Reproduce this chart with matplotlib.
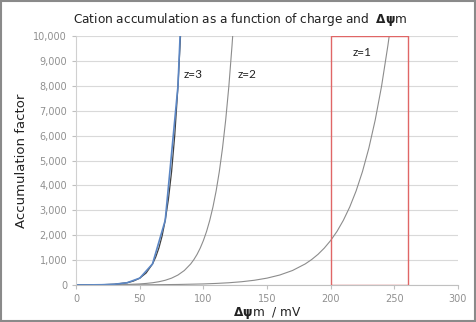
import matplotlib
matplotlib.use("Agg")
import matplotlib.pyplot as plt
from matplotlib.patches import Rectangle

# accumulation factor vs membrane potential (mV)
x_z1 = [0, 20, 40, 60, 80, 100, 110, 120, 130, 140, 150, 160, 170, 180, 185, 190, 195,
        200, 205, 210, 215, 220, 225, 230, 235, 240, 245, 246]
y_z1 = [1, 2, 4.5, 9, 20, 42, 62, 89, 130, 189, 275, 400, 581, 845, 1019, 1228, 1482,
        1787, 2154, 2600, 3134, 3778, 4557, 5495, 6625, 7986, 9630, 10000]

x_z2 = [0, 10, 20, 30, 40, 50, 55, 60, 65, 70, 75, 80, 85, 90, 92.5, 95, 97.5,
        100, 102.5, 105, 107.5, 110, 112.5, 115, 117.5, 120, 122.5, 123]
y_z2 = [1, 2, 4.5, 9, 20, 42, 62, 89, 130, 189, 275, 400, 581, 845, 1019, 1228, 1482,
        1787, 2154, 2600, 3134, 3778, 4557, 5495, 6625, 7986, 9630, 10000]

x_z3 = [0, 10, 20, 30, 40, 45, 50, 55, 60, 62.5, 65, 67.5, 70, 72.5, 75, 77.5, 80, 82]
y_z3 = [1, 3, 9, 29, 89, 157, 275, 482, 845, 1119, 1482, 1962, 2600, 3443, 4557, 6030, 7986, 10000]

# coarser series drawn in blue on top of z=3
x_blue = [0, 10, 20, 30, 40, 50, 60, 70, 80, 85]
y_blue = [1, 3, 9, 29, 89, 275, 845, 2600, 7986, 14000]

labels = ["z=3", "z=2", "z=1"]
label_x = [92, 134, 225]
label_y = [8450, 8450, 9350]

box_x = [200, 261]

fig = plt.figure(figsize=(4.76, 3.22), dpi=100)
ax = fig.add_axes([0.160, 0.115, 0.802, 0.773])

ax.plot(x_z1, y_z1, color="#8c8c8c", lw=0.8)
ax.plot(x_z2, y_z2, color="#8c8c8c", lw=0.8)
ax.plot(x_z3, y_z3, color="#404040", lw=0.9)
ax.plot(x_blue, y_blue, color="#5b86c4", lw=1.2)

ax.add_patch(Rectangle((box_x[0], 0), box_x[1] - box_x[0], 10000,
                       fill=False, edgecolor="#e06666", lw=1.0, zorder=5))

for t, lx, ly in zip(labels, label_x, label_y):
    ax.text(lx, ly, t, fontsize=8.5, family="Lato", ha="center", va="center", color="#222222")

ax.set_xlim(0, 300)
ax.set_ylim(0, 10000)
ax.set_xticks(range(0, 301, 50))
ax.set_yticks(range(0, 10001, 1000))
ax.set_yticklabels([f"{v:,}" for v in range(0, 10001, 1000)])
ax.grid(axis="y", color="#d9d9d9", lw=0.8)
ax.set_axisbelow(True)
for s in ["top", "right"]:
    ax.spines[s].set_visible(False)
ax.spines["left"].set_color("#d0d0d0")
ax.spines["bottom"].set_color("#c0c0c0")
ax.tick_params(colors="#c0c0c0", labelcolor="#909090", labelsize=7, length=3, width=0.8)

fig.text(0.504, 0.938, r"Cation accumulation as a function of charge and  $\mathbf{\Delta\psi}$m",
         fontsize=8.7, color="#222222", ha="center", va="center")
ax.set_ylabel("Accumulation factor", fontsize=9.5, labelpad=4, color="#222222")
ax.set_xlabel(r"$\mathbf{\Delta\psi}$m  / mV", fontsize=8.7, labelpad=1, color="#222222")

fig.patches.append(Rectangle((0.002, 0.003), 0.995, 0.994, transform=fig.transFigure,
                             fill=False, edgecolor="#8a8a8a", lw=1.5))

fig.savefig("out.png", dpi=100)
